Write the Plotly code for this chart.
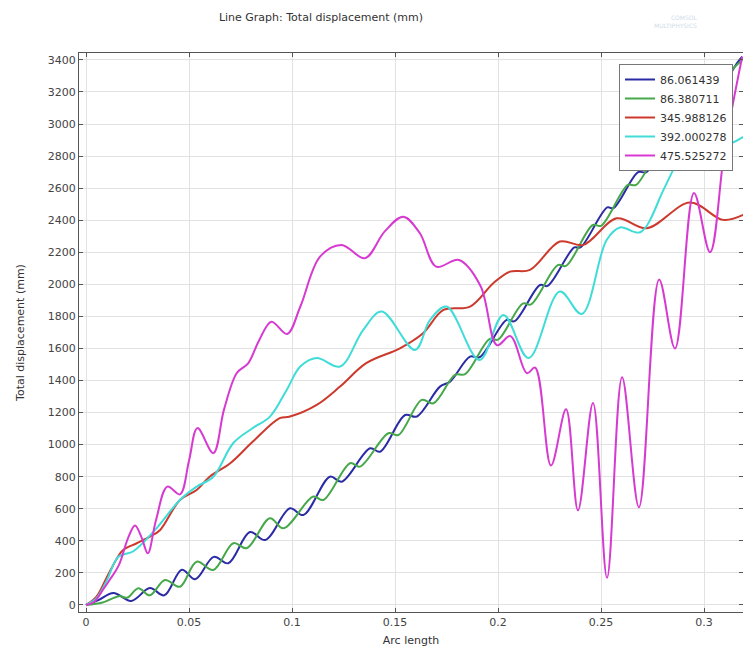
import plotly.graph_objects as go

# Arc length / total displacement (mm) samples for each parameter value
arc_86_061 = [0, 0.006, 0.0133, 0.022, 0.031, 0.038, 0.0465, 0.053, 0.062, 0.069, 0.0796, 0.087,
              0.099, 0.1055, 0.1184, 0.1241, 0.1379, 0.1427, 0.1549, 0.1605, 0.1718, 0.1767,
              0.1864, 0.191, 0.2042, 0.208, 0.2204, 0.224, 0.237, 0.240, 0.253, 0.256, 0.268,
              0.272, 0.284, 0.288, 0.300, 0.304, 0.316, 0.3185]
disp_86_061 = [0, 30, 75, 25, 105, 60, 220, 160, 300, 260, 455, 405,
               603, 561, 800, 769, 977, 956, 1185, 1175, 1362, 1393,
               1549, 1545, 1778, 1770, 1996, 1990, 2230, 2230, 2480, 2475, 2700,
               2700, 2950, 2950, 3150, 3150, 3380, 3420]

arc_86_381 = [0, 0.008, 0.016, 0.020, 0.0254, 0.031, 0.0383, 0.0456, 0.0537, 0.0618, 0.0715,
              0.078, 0.0893, 0.0958, 0.1103, 0.1152, 0.1282, 0.133, 0.1468, 0.1516, 0.163,
              0.1686, 0.1791, 0.184, 0.196, 0.200, 0.212, 0.216, 0.229, 0.233, 0.246, 0.250,
              0.263, 0.267, 0.280, 0.284, 0.297, 0.301, 0.313, 0.3185]
disp_86_381 = [0, 15, 55, 45, 104, 60, 156, 114, 270, 218, 385,
               354, 541, 478, 676, 655, 884, 863, 1071, 1060, 1279,
               1258, 1435, 1440, 1660, 1655, 1880, 1875, 2120, 2115, 2370, 2365,
               2620, 2620, 2870, 2870, 3110, 3110, 3330, 3400]

arc_345_988 = [0, 0.005, 0.010, 0.015, 0.018, 0.0246, 0.031, 0.036, 0.0456, 0.0537, 0.060,
               0.070, 0.081, 0.094, 0.099, 0.112, 0.1233, 0.136, 0.1524, 0.1636, 0.1735,
               0.1864, 0.1977, 0.2058, 0.2155, 0.230, 0.2414, 0.2576, 0.2722, 0.2932,
               0.3092, 0.319]
disp_345_988 = [0, 50, 170, 290, 343, 385, 426, 468, 655, 717, 800,
                884, 1019, 1165, 1175, 1248, 1362, 1508, 1601, 1695, 1840,
                1861, 2007, 2079, 2090, 2267, 2246, 2412, 2350, 2510,
                2402, 2433]

arc_392_000 = [0, 0.005, 0.010, 0.0157, 0.023, 0.0335, 0.0456, 0.0537, 0.0618, 0.0715, 0.081,
               0.0893, 0.0974, 0.104, 0.112, 0.1233, 0.1345, 0.1435, 0.1597, 0.167, 0.175,
               0.191, 0.2026, 0.2148, 0.230, 0.2406, 0.2527, 0.2592, 0.269, 0.2803, 0.285,
               0.292, 0.300, 0.307, 0.319]
disp_392_000 = [0, 40, 150, 300, 335, 468, 655, 738, 800, 1010, 1104,
                1175, 1341, 1487, 1540, 1487, 1715, 1830, 1591, 1778, 1861,
                1528, 1809, 1540, 1955, 1815, 2277, 2355, 2325, 2589, 2714,
                2880, 2950, 2860, 2920]

arc_475_525 = [0, 0.004, 0.0085, 0.0117, 0.016, 0.0205, 0.0238, 0.027, 0.030, 0.034, 0.0395,
               0.0456, 0.050, 0.0541, 0.0618, 0.067, 0.0732, 0.0788, 0.084, 0.090, 0.0976,
               0.104, 0.1136, 0.124, 0.1354, 0.145, 0.154, 0.162, 0.170, 0.181, 0.1915,
               0.1995, 0.206, 0.214, 0.218, 0.2257, 0.233, 0.2388, 0.2461, 0.2529, 0.2602,
               0.2684, 0.2782, 0.2859, 0.2951, 0.3029, 0.310, 0.3185]
disp_475_525 = [0, 20, 100, 160, 250, 420, 495, 420, 322, 530, 738,
                690, 900, 1103, 947, 1220, 1447, 1509, 1650, 1767, 1690,
                1860, 2173, 2246, 2163, 2330, 2422, 2320, 2110, 2152, 1990,
                1620, 1677, 1446, 1480, 870, 1220, 590, 1260, 170, 1420,
                610, 2030, 1600, 2570, 2200, 2843, 3420]

series_names = ["86.061439", "86.380711", "345.988126", "392.000278", "475.525272"]
series_x = [arc_86_061, arc_86_381, arc_345_988, arc_392_000, arc_475_525]
series_y = [disp_86_061, disp_86_381, disp_345_988, disp_392_000, disp_475_525]
series_colors = ["#2b2ba6", "#46a84a", "#cc3a2e", "#3fdcd8", "#d63ad0"]

x_ticks = [0, 0.05, 0.1, 0.15, 0.2, 0.25, 0.3]
x_tick_text = ["0", "0.05", "0.1", "0.15", "0.2", "0.25", "0.3"]
y_ticks = list(range(0, 3401, 200))

fig = go.Figure()
for name, xs, ys, col in zip(series_names, series_x, series_y, series_colors):
    fig.add_trace(go.Scatter(
        x=xs, y=ys, name=name, mode="lines",
        line=dict(color=col, width=2, shape="spline", smoothing=1.0),
    ))

axis_common = dict(
    showgrid=True, gridcolor="#e2e2e2", gridwidth=1,
    showline=True, linecolor="#555555", linewidth=1, mirror="ticks",
    ticks="inside", ticklen=4, tickcolor="#555555",
    tickfont=dict(family="DejaVu Sans", size=11, color="#444444"),
    zeroline=False,
)

fig.update_layout(
    width=743, height=650,
    margin=dict(l=79, r=0, t=53, b=38),
    paper_bgcolor="white", plot_bgcolor="white",
    title=dict(text="Line Graph: Total displacement (mm)",
               font=dict(family="DejaVu Sans", size=11, color="#333333"),
               x=321 / 743, xanchor="center", y=1 - 17 / 650, yanchor="middle"),
    xaxis=dict(range=[-0.0034, 0.3189], tickvals=x_ticks, ticktext=x_tick_text,
               title=dict(text="Arc length", standoff=8,
                          font=dict(family="DejaVu Sans", size=11, color="#333333")),
               **axis_common),
    yaxis=dict(range=[-44, 3443], tickvals=y_ticks,
               title=dict(text="Total displacement (mm)", standoff=20,
                          font=dict(family="DejaVu Sans", size=11, color="#333333")),
               **axis_common),
    legend=dict(x=(619 - 79) / 664, y=(612 - 64) / 559, xanchor="left", yanchor="top",
                bgcolor="white", bordercolor="#777777", borderwidth=1,
                font=dict(family="DejaVu Sans", size=11, color="#333333"),
                tracegroupgap=0),
    showlegend=True,
)

# faint product mark in the upper right corner
fig.add_annotation(text="COMSOL<br>MULTIPHYSICS", xref="paper", yref="paper",
                   x=(700 - 79) / 664, y=(612 - 22) / 559, showarrow=False,
                   font=dict(family="DejaVu Sans", size=6, color="#cfdcea"),
                   xanchor="right", yanchor="middle", align="right")

fig.write_html("out.html")
